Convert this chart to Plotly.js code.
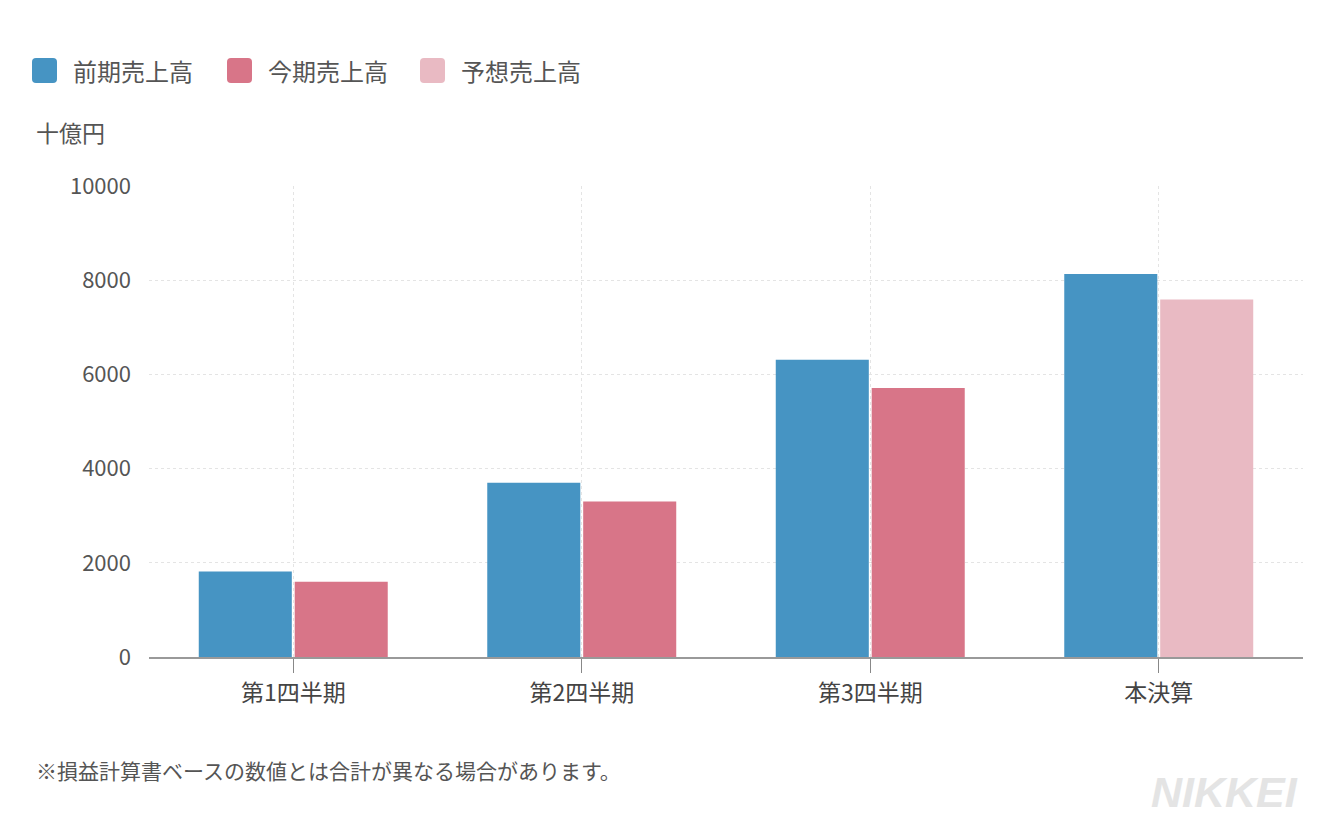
<!DOCTYPE html>
<html>
<head>
<meta charset="utf-8">
<script src="https://cdn.plot.ly/plotly-3.0.1.min.js"></script>
<style>
  html, body { margin: 0; padding: 0; background: #fff; }
  #chart { width: 1336px; height: 815px; }
</style>
</head>
<body>
<div id="chart"></div>
<script>
window.addEventListener("DOMContentLoaded", init);

// data (十億円)
const categories = ['第1四半期', '第2四半期', '第3四半期', '本決算'];
const prevSales = [1815, 3700, 6310, 8130];
const currSales = [1600, 3300, 5710, null];
const forecastSales = [null, null, null, 7590];
const seriesNames = ['前期売上高', '今期売上高', '予想売上高'];
const yTicks = [0, 2000, 4000, 6000, 8000, 10000];

const W = 1336, H = 815;
const M = { l: 149, r: 33, t: 186, b: 158 };
const FONT = '"Noto Sans CJK JP", "Noto Sans", sans-serif';
const COLORS = ['#4694c3', '#d87588', '#e9bac3'];


function init() {
    Plotly.newPlot('chart', dataset(), layout(), { displayModeBar: false, staticPlot: true });
}


function dataset() {
    let common = { type: 'bar', x: categories, showlegend: false, hoverinfo: 'skip' };
    let trace0 = Object.assign({}, common, { name: seriesNames[0], y: prevSales, offsetgroup: 'a',
        marker: { color: COLORS[0], line: { width: 0 } } });
    let trace1 = Object.assign({}, common, { name: seriesNames[1], y: currSales, offsetgroup: 'b',
        marker: { color: COLORS[1], line: { width: 0 } } });
    let trace2 = Object.assign({}, common, { name: seriesNames[2], y: forecastSales, offsetgroup: 'b',
        marker: { color: COLORS[2], line: { width: 0 } } });
    return [trace0, trace1, trace2];
}


// pixel -> paper coords
function px(x) { return (x - M.l) / (W - M.l - M.r); }
function py(y) { return (H - M.b - y) / (H - M.t - M.b); }


function roundRect(w, h, r) {
    return `M${r},0 L${w - r},0 Q${w},0 ${w},${r} L${w},${h - r} Q${w},${h} ${w - r},${h} ` +
           `L${r},${h} Q0,${h} 0,${h - r} L0,${r} Q0,0 ${r},0 Z`;
}


function legendItems() {
    // left of swatch in pixels
    let lefts = [32, 227, 420];
    let shapes = [];
    let annos = [];
    for (let i = 0; i < seriesNames.length; i++) {
        shapes.push({
            type: 'path', xref: 'paper', yref: 'paper',
            xsizemode: 'pixel', ysizemode: 'pixel',
            xanchor: px(lefts[i]), yanchor: py(83),
            path: roundRect(25, 25, 4),
            fillcolor: COLORS[i], line: { width: 0 }
        });
        annos.push({
            text: seriesNames[i], xref: 'paper', yref: 'paper',
            x: px(lefts[i] + 39), y: py(70), xanchor: 'left', yanchor: 'middle',
            showarrow: false, font: { family: FONT, size: 24, color: '#555' }
        });
    }
    return { shapes: shapes, annos: annos };
}


function layout() {
    let leg = legendItems();
    let annos = leg.annos.concat([
        { text: '十億円', xref: 'paper', yref: 'paper', x: px(34), y: py(132),
          xanchor: 'left', yanchor: 'middle', showarrow: false,
          font: { family: FONT, size: 23, color: '#555' } },
        { text: '※損益計算書ベースの数値とは合計が異なる場合があります。', xref: 'paper', yref: 'paper',
          x: px(34), y: py(770), xanchor: 'left', yanchor: 'middle', showarrow: false,
          font: { family: FONT, size: 21, color: '#555' } },
        { text: '<b><i>NIKKEI</i></b>', xref: 'paper', yref: 'paper', x: px(1300), y: py(792),
          xanchor: 'right', yanchor: 'middle', showarrow: false,
          font: { family: '"Liberation Sans", Arial, sans-serif', size: 43, color: '#e4e4e4' } }
    ]);

    return {
        width: W, height: H,
        margin: M,
        paper_bgcolor: '#fff', plot_bgcolor: '#fff',
        barmode: 'group', bargap: 0.335, bargroupgap: 0.03,
        showlegend: false,
        font: { family: FONT, color: '#555' },
        xaxis: {
            type: 'category',
            showgrid: true, gridcolor: '#e4e4e4', griddash: 'dot', gridwidth: 1,
            showline: true, linecolor: '#999', linewidth: 2,
            ticks: 'outside', ticklen: 14, tickcolor: '#888', tickwidth: 1,
            tickfont: { family: FONT, size: 23, color: '#444' },
            zeroline: false, fixedrange: true
        },
        yaxis: {
            range: [0, 10000], tickvals: yTicks, ticktext: yTicks.map(String),
            showgrid: true, gridcolor: '#e4e4e4', griddash: 'dot', gridwidth: 1,
            showline: false, zeroline: false, ticks: '', ticklabelstandoff: 17,
            tickfont: { family: FONT, size: 22, color: '#555' }, fixedrange: true
        },
        shapes: leg.shapes,
        annotations: annos
    };
}
</script>
</body>
</html>
